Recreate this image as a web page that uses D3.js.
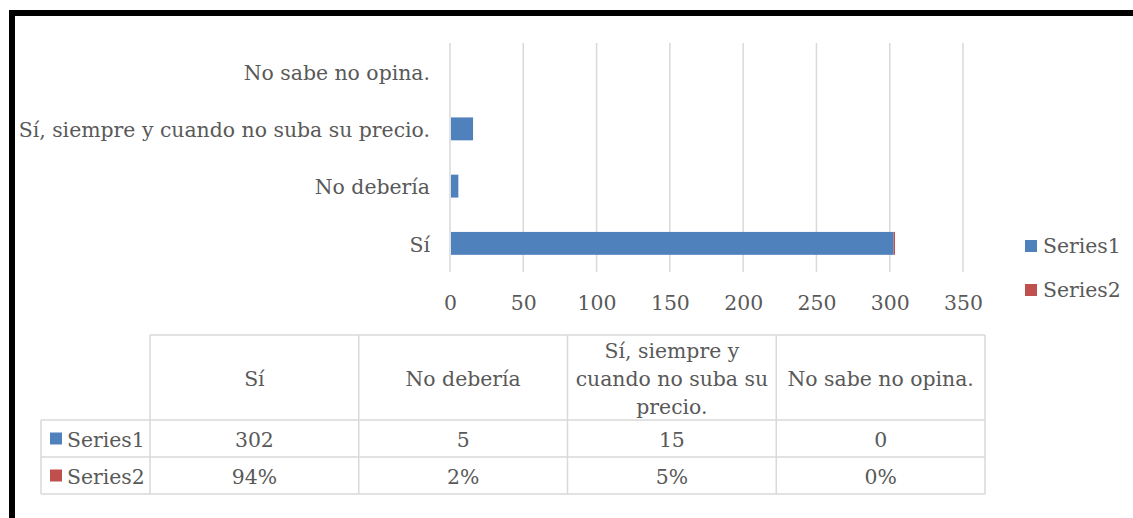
<!DOCTYPE html>
<html><head><meta charset="utf-8">
<script src="https://cdn.jsdelivr.net/npm/d3@7"></script>
<style>
body{margin:0;background:#fff;}
svg{display:block;}
text{font-family:"DejaVu Serif",serif;fill:#595959;}
</style></head>
<body>
<svg id="c" width="1133" height="518"></svg>
<script>
const categories = ["Sí", "No debería", "Sí, siempre y cuando no suba su precio.", "No sabe no opina."];
const series1 = [302, 5, 15, 0];
const series2 = [0.94, 0.02, 0.05, 0.00];
const series2Labels = ["94%", "2%", "5%", "0%"];
const seriesNames = ["Series1", "Series2"];
const colors = ["#4F81BD", "#C0504D"];
const xTicks = [0, 50, 100, 150, 200, 250, 300, 350];
const headerLines = [["Sí"], ["No debería"], ["Sí, siempre y", "cuando no suba su", "precio."], ["No sabe no opina."]];

const svg = d3.select("#c");
const FS = 20.4;

// border
svg.append("path").attr("d", "M12,518 V13 H1133").attr("fill", "none").attr("stroke", "#000").attr("stroke-width", 6);

const plotTop = 43, plotBot = 272;
const x = d3.scaleLinear().domain([0, 350]).range([450, 963]);
const y = d3.scaleBand().domain(categories.slice().reverse()).range([plotTop, plotBot]).paddingInner(0.6).paddingOuter(0.3);

// gridlines
svg.append("g").selectAll("line").data(xTicks).join("line")
  .attr("x1", d => x(d)).attr("x2", d => x(d)).attr("y1", plotTop).attr("y2", plotBot)
  .attr("stroke", "#D9D9D9").attr("stroke-width", 1.5);

// x axis labels
const xa = svg.append("g").attr("transform", `translate(0,${plotBot})`)
  .call(d3.axisBottom(x).tickValues(xTicks).tickSize(0).tickPadding(24));
xa.select(".domain").remove();
xa.selectAll("text").attr("font-size", FS).attr("font-family", "DejaVu Serif").attr("fill", "#595959");

// y labels
svg.append("g").selectAll("text").data(categories).join("text")
  .attr("x", 430).attr("y", d => y(d) + y.bandwidth() / 2 + 1).attr("dy", "0.35em")
  .attr("text-anchor", "end").attr("font-size", FS).text(d => d);

// stacked bars
const rows = categories.map((c, i) => ({c, s1: series1[i], s2: series2[i]}));
svg.append("g").selectAll("rect").data(rows).join("rect")
  .attr("x", d => x(0) + 1).attr("y", d => y(d.c)).attr("height", y.bandwidth())
  .attr("width", d => Math.max(0, x(d.s1) - x(0))).attr("fill", colors[0]);
svg.append("g").selectAll("rect").data(rows).join("rect")
  .attr("x", d => x(d.s1) + 1).attr("y", d => y(d.c)).attr("height", y.bandwidth())
  .attr("width", d => x(d.s1 + d.s2) - x(d.s1)).attr("fill", colors[1]);

// legend
const lg = svg.append("g").selectAll("g").data(seriesNames).join("g")
  .attr("transform", (d, i) => `translate(1025,${240 + i * 44})`);
lg.append("rect").attr("width", 12).attr("height", 12).attr("fill", (d, i) => colors[i]);
lg.append("text").attr("x", 18).attr("y", 6).attr("dy", "0.35em").attr("font-size", FS).text(d => d);

// data table
const colX = d3.scaleBand().domain(categories).range([150, 985]);
const rowTop = 335, headBot = 420, r1Bot = 457, r2Bot = 494;
const tg = svg.append("g");
const gc = "#D9D9D9";
function ln(x1, y1, x2, y2) { tg.append("line").attr("x1", x1).attr("y1", y1).attr("x2", x2).attr("y2", y2).attr("stroke", gc).attr("stroke-width", 1.5); }
ln(150, rowTop, 985, rowTop);
ln(41, headBot, 985, headBot);
ln(41, r1Bot, 985, r1Bot);
ln(41, r2Bot, 985, r2Bot);
ln(41, headBot, 41, r2Bot);
categories.forEach(c => ln(colX(c), rowTop, colX(c), r2Bot));
ln(985, rowTop, 985, r2Bot);

categories.forEach((c, i) => {
  const lines = headerLines[i];
  const cx = colX(c) + colX.bandwidth() / 2;
  const lh = 28, mid = (rowTop + headBot) / 2 + 1;
  lines.forEach((t, k) => {
    tg.append("text").attr("x", cx).attr("y", mid + (k - (lines.length - 1) / 2) * lh)
      .attr("dy", "0.35em").attr("text-anchor", "middle").attr("font-size", FS).text(t);
  });
  tg.append("text").attr("x", cx).attr("y", (headBot + r1Bot) / 2 + 1).attr("dy", "0.35em")
    .attr("text-anchor", "middle").attr("font-size", FS).text(series1[i]);
  tg.append("text").attr("x", cx).attr("y", (r1Bot + r2Bot) / 2 + 1).attr("dy", "0.35em")
    .attr("text-anchor", "middle").attr("font-size", FS).text(series2Labels[i]);
});
const rowMids = [(headBot + r1Bot) / 2, (r1Bot + r2Bot) / 2];
seriesNames.forEach((s, i) => {
  tg.append("rect").attr("x", 50).attr("y", rowMids[i] - 6).attr("width", 12).attr("height", 12).attr("fill", colors[i]);
  tg.append("text").attr("x", 67).attr("y", rowMids[i] + 1).attr("dy", "0.35em").attr("font-size", FS).text(s);
});
</script>
</body></html>
